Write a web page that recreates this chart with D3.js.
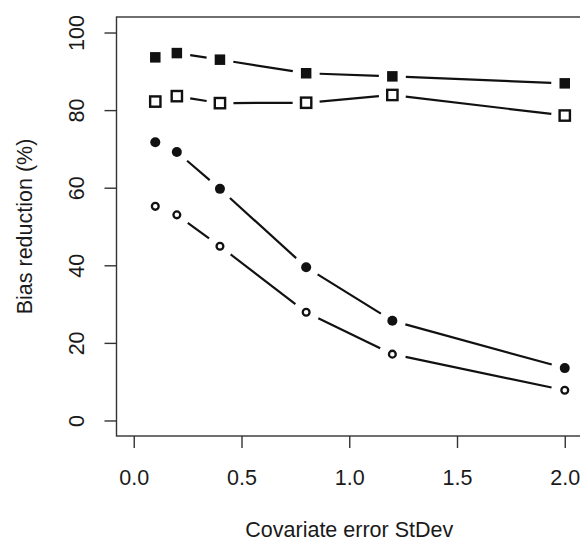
<!DOCTYPE html>
<html>
<head>
<meta charset="utf-8">
<script src="https://cdn.jsdelivr.net/npm/d3@7"></script>
<style>
  body { margin: 0; background: #fff; }
  svg { display: block; }
  text { font-family: "Liberation Sans", Arial, sans-serif; fill: #1a1a1a; }
</style>
</head>
<body>
<div id="chart"></div>
<script>
// covariate error standard deviations
const errorSd = [0.1, 0.2, 0.4, 0.8, 1.2, 2.0];

// bias reduction (%) for the four series
const filledSquares = [93.6, 94.7, 93.0, 89.5, 88.7, 86.9];
const openSquares = [82.2, 83.6, 81.8, 81.9, 83.9, 78.6];
const filledCircles = [71.7, 69.2, 59.7, 39.5, 25.7, 13.5];
const openCircles = [55.2, 53.0, 44.9, 27.9, 17.1, 7.8];

const xTicks = [0, 0.5, 1, 1.5, 2];
const yTicks = [0, 20, 40, 60, 80, 100];

const width = 580, height = 542;
const plot = {left: 116.5, right: 582, top: 17, bottom: 436};

var svg = d3.select("#chart")
    .append("svg")
    .attr("width", width)
    .attr("height", height);

// R style 4% padding around the data range
const x = d3.scaleLinear()
    .domain([-0.08, 2.08])
    .range([plot.left, plot.right]);

const y = d3.scaleLinear()
    .domain([-4, 104])
    .range([plot.bottom, plot.top]);

var series = [
    {values: filledSquares, shape: "square", filled: true},
    {values: openSquares, shape: "square", filled: false},
    {values: filledCircles, shape: "circle", filled: true},
    {values: openCircles, shape: "circle", filled: false}
];

const gap = 13.5;
const ink = "#111";

series.forEach(function (s) {
    var pts = errorSd.map((d, i) => [x(d), y(s.values[i])]);

    // type = "b": segments stop short of each point
    for (let i = 0; i < pts.length - 1; i++) {
        const [x1, y1] = pts[i];
        const [x2, y2] = pts[i + 1];
        const len = Math.hypot(x2 - x1, y2 - y1);
        if (len <= 2 * gap) continue;
        const ux = (x2 - x1) / len, uy = (y2 - y1) / len;
        svg.append("line")
            .attr("x1", x1 + ux * gap)
            .attr("y1", y1 + uy * gap)
            .attr("x2", x2 - ux * gap)
            .attr("y2", y2 - uy * gap)
            .attr("stroke", ink)
            .attr("stroke-width", 2.2);
    }

    var g = svg.append("g");
    if (s.shape === "square") {
        var side = s.filled ? 10.5 : 10.3;
        g.selectAll("rect")
            .data(pts)
            .enter().append("rect")
            .attr("x", d => d[0] - side / 2)
            .attr("y", d => d[1] - side / 2)
            .attr("width", side)
            .attr("height", side)
            .attr("fill", s.filled ? ink : "#fff")
            .attr("stroke", s.filled ? "none" : ink)
            .attr("stroke-width", 2.4);
    } else {
        g.selectAll("circle")
            .data(pts)
            .enter().append("circle")
            .attr("cx", d => d[0])
            .attr("cy", d => d[1])
            .attr("r", s.filled ? 5 : 3.4)
            .attr("fill", s.filled ? ink : "#fff")
            .attr("stroke", s.filled ? "none" : ink)
            .attr("stroke-width", 2.3);
    }
});

// box
svg.append("rect")
    .attr("x", plot.left)
    .attr("y", plot.top)
    .attr("width", plot.right - plot.left)
    .attr("height", plot.bottom - plot.top)
    .attr("fill", "none")
    .attr("stroke", "#333")
    .attr("stroke-width", 1.4);

var xAxis = svg.append("g")
    .attr("transform", "translate(0," + plot.bottom + ")")
    .call(d3.axisBottom(x).tickValues(xTicks).tickSize(12).tickFormat(d3.format(".1f")));

xAxis.select(".domain").remove();
xAxis.selectAll("line").attr("stroke", "#333").attr("stroke-width", 1.4);
xAxis.selectAll("text")
    .attr("y", 49)
    .attr("dy", 0)
    .attr("fill", "#1a1a1a")
    .style("font-size", "21.5px")
    .style("font-family", "'Liberation Sans', Arial, sans-serif");

var yAxis = svg.append("g")
    .attr("transform", "translate(" + plot.left + ",0)")
    .call(d3.axisLeft(y).tickValues(yTicks).tickSize(12));

yAxis.select(".domain").remove();
yAxis.selectAll("line").attr("stroke", "#333").attr("stroke-width", 1.4);
yAxis.selectAll("text")
    .attr("x", 0)
    .attr("dy", 0)
    .attr("transform", "translate(-33,0) rotate(-90)")
    .attr("text-anchor", "middle")
    .attr("fill", "#1a1a1a")
    .style("font-size", "21.5px")
    .style("font-family", "'Liberation Sans', Arial, sans-serif");

svg.append("text")
    .attr("x", (plot.left + plot.right) / 2)
    .attr("y", 537)
    .attr("text-anchor", "middle")
    .style("font-size", "21.5px")
    .text("Covariate error StDev");

svg.append("text")
    .attr("transform", "translate(31.5," + (plot.top + plot.bottom) / 2 + ") rotate(-90)")
    .attr("text-anchor", "middle")
    .style("font-size", "21.5px")
    .text("Bias reduction (%)");
</script>
</body>
</html>
